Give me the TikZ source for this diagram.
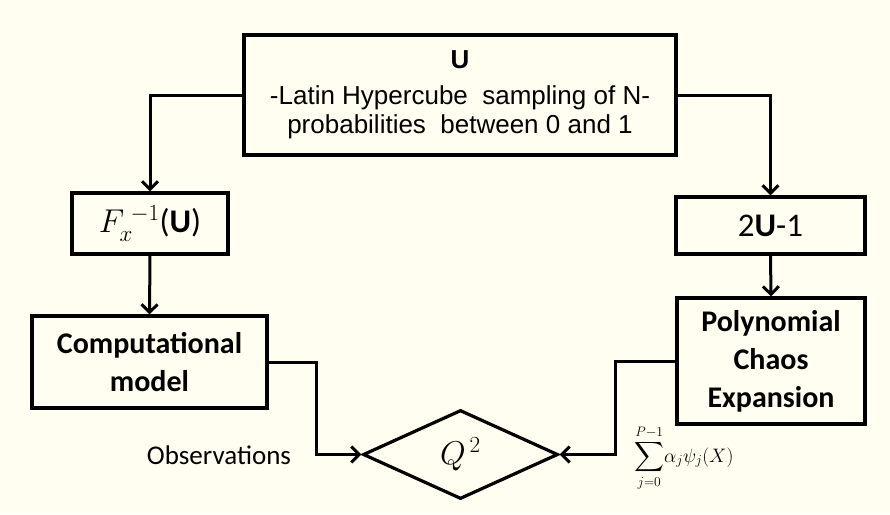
\RequirePackage{fix-cm}
\documentclass[tikz,border=0pt]{standalone}
\usepackage{exscale}
\usepackage{fontspec}
\setmainfont{Liberation Sans}
\newfontfamily\calibri{Carlito}
\usetikzlibrary{shapes.geometric,arrows.meta}
\definecolor{bg}{HTML}{FFFEF0}
\begin{document}
\begin{tikzpicture}[x=1pt,y=-1pt,
  box/.style={draw,line width=3.2pt,inner sep=0pt,align=center},
  arr/.style={line width=3pt,-{Straight Barb[length=8pt,width=16pt]}},
  boldtxt/.style={font=\calibri\bfseries\fontsize{30}{38}\selectfont}]
\fill[bg] (0,0) rectangle (890,514);
\node[box,minimum width=432pt,minimum height=120pt,font=\fontsize{26}{29}\selectfont]
  (top) at (460,95) {\textbf{U}\\[7pt]-Latin Hypercube\ \ sampling of N-\\probabilities\ \ between 0 and 1};
\node[box,minimum width=156pt,minimum height=61pt,font=\calibri\fontsize{33}{36}\selectfont]
  (F) at (150,223.5) {$F_x^{\;-1}$(\textbf{U})};
\node[box,boldtxt,minimum width=235pt,minimum height=92pt]
  (comp) at (149.5,362) {Computational\\model};
\node[box,minimum width=189pt,minimum height=57pt,font=\calibri\fontsize{33}{36}\selectfont]
  (two) at (770.5,225.5) {2\textbf{U}-1};
\node[box,boldtxt,minimum width=188pt,minimum height=126pt]
  (pce) at (771,361) {Polynomial\\Chaos\\Expansion};
\node[diamond,draw,line width=3.2pt,inner sep=0pt,minimum width=195pt,minimum height=89pt,
  font=\fontsize{33}{36}\selectfont] (Q) at (460.5,454.5) {$Q^{\,2}$};
\node[font=\calibri\fontsize{27}{30}\selectfont] (obs) at (219,455) {Observations};
\node[font=\fontsize{19.5}{24}\selectfont,inner sep=0pt,anchor=west] (sum) at (634,458)
  {$\displaystyle\sum_{j=0}^{P-1}\!\alpha_j\psi_j(X)$};
\draw[arr] (top.west) -| (F.north);
\draw[arr] (top.east) -| (two.north);
\draw[arr] (F.south) -- (comp.north);
\draw[arr] (two.south) -- (pce.north);
\draw[arr] (comp.east) -- ++(48,0) |- (Q.west);
\draw[arr] (pce.west) -- ++(-60,0) |- (Q.east);
\end{tikzpicture}
\end{document}
